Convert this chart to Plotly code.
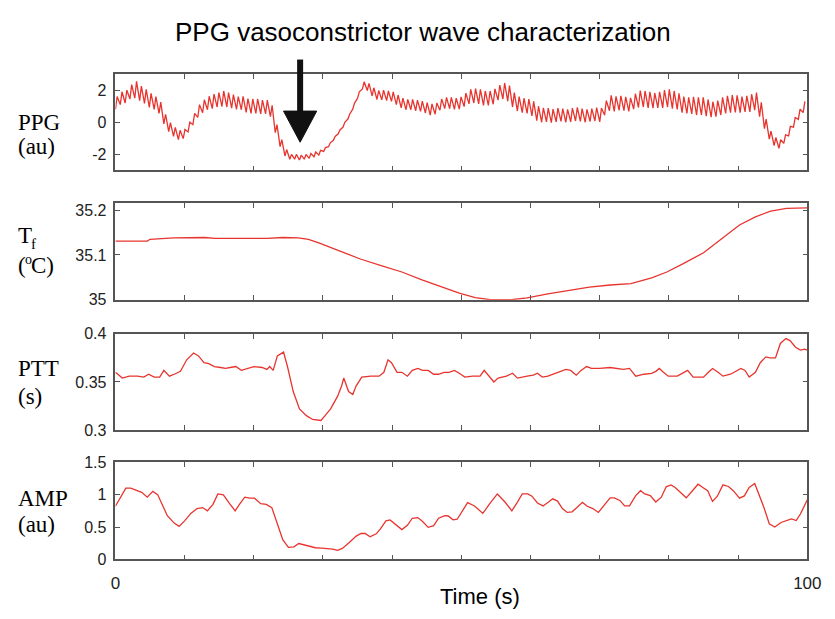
import plotly.graph_objects as go

# ---------------- data ----------------
beat_period = 0.7      # s between successive PPG beats
rise_time = 0.25       # s from pulse foot to pulse peak

ppg_trough = [0.80, 1.10, 1.20, 1.45, 1.50, 1.35, 1.18, 0.92, 0.80, 0.55,
              -0.10, -0.58, -0.88, -1.08, -1.02, -0.60, -0.15, 0.30, 0.60, 0.78,
              0.85, 0.95, 0.98, 0.95, 0.88, 0.80, 0.78, 0.62, 0.55, 0.55,
              0.52, 0.52, 0.35, -0.65, -1.52, -2.10, -2.30, -2.30, -2.35, -2.30,
              -2.25, -2.15, -2.05, -1.82, -1.52, -1.12, -0.72, -0.30, 0.20, 0.82,
              1.50, 2.08, 1.98, 1.65, 1.42, 1.40, 1.35, 1.30, 1.10, 0.90,
              0.78, 0.78, 0.72, 0.68, 0.58, 0.45, 0.50, 0.75, 0.85, 0.85,
              0.80, 0.82, 0.98, 1.15, 1.20, 1.15, 1.05, 1.05, 1.12, 1.38,
              1.45, 1.32, 0.95, 0.70, 0.60, 0.55, 0.40, 0.10, 0.00, 0.02,
              -0.02, 0.02, 0.05, 0.00, 0.02, 0.08, 0.05, 0.00, 0.05, 0.08,
              0.02, 0.45, 0.72, 0.68, 0.75, 0.72, 0.68, 0.82, 0.92, 0.95,
              0.90, 0.88, 0.90, 0.90, 0.95, 0.85, 0.80, 0.60, 0.55, 0.52,
              0.45, 0.45, 0.38, 0.32, 0.35, 0.45, 0.55, 0.60, 0.62, 0.60,
              0.65, 0.65, 0.75, 0.35, -0.40, -1.05, -1.45, -1.62, -1.32, -0.85,
              -0.30, 0.18, 0.60]
ppg_peak = [1.60, 1.90, 2.00, 2.35, 2.55, 2.25, 2.05, 1.80, 1.60, 1.25,
            0.50, -0.02, -0.32, -0.50, -0.45, 0.00, 0.55, 1.10, 1.40, 1.62,
            1.75, 1.85, 1.95, 1.85, 1.72, 1.60, 1.62, 1.48, 1.45, 1.45,
            1.38, 1.38, 1.05, -0.15, -1.08, -1.70, -2.00, -2.00, -2.05, -2.00,
            -1.95, -1.85, -1.75, -1.58, -1.28, -0.88, -0.48, 0.00, 0.50, 1.18,
            1.90, 2.52, 2.42, 2.15, 1.98, 2.00, 1.95, 1.90, 1.70, 1.50,
            1.42, 1.42, 1.38, 1.32, 1.22, 1.15, 1.20, 1.45, 1.55, 1.55,
            1.50, 1.58, 1.82, 2.05, 2.10, 2.05, 1.95, 1.95, 2.08, 2.32,
            2.45, 2.28, 1.85, 1.60, 1.50, 1.45, 1.30, 1.00, 0.90, 0.88,
            0.82, 0.88, 0.85, 0.80, 0.88, 0.92, 0.85, 0.80, 0.85, 0.92,
            0.88, 1.35, 1.68, 1.62, 1.65, 1.58, 1.52, 1.78, 1.98, 1.95,
            1.90, 1.82, 1.90, 2.00, 2.05, 1.95, 1.80, 1.60, 1.55, 1.58,
            1.55, 1.55, 1.42, 1.28, 1.35, 1.55, 1.65, 1.70, 1.68, 1.60,
            1.65, 1.75, 1.85, 1.25, 0.20, -0.55, -0.95, -1.08, -0.78, -0.25,
            0.30, 0.82, 1.30]

tf_t = [0, 4.6, 5.0, 8.4, 12.9, 14.4, 21.9, 24.2, 26.4, 27.9, 29.4, 32.4, 35.4,
        38.4, 41.4, 44.4, 47.4, 49.7, 52.0, 54.2, 57.2, 59.5, 62.5, 65.5, 68.5,
        71.5, 74.5, 77.5, 79.7, 82.0, 85.0, 87.2, 90.2, 92.5, 94.7, 97.0, 100]
tf_v = [35.131, 35.131, 35.135, 35.138, 35.139, 35.137, 35.137, 35.139, 35.138,
        35.135, 35.127, 35.109, 35.091, 35.076, 35.062, 35.044, 35.027, 35.015,
        35.005, 35.000, 35.000, 35.004, 35.013, 35.020, 35.028, 35.033, 35.036,
        35.049, 35.062, 35.080, 35.105, 35.131, 35.167, 35.185, 35.198, 35.204,
        35.205]

ptt_t = [0, 1.0, 2.0, 3.2, 4.1, 4.8, 5.6, 6.4, 7.0, 7.8, 8.5, 9.4, 10.3, 11.3,
         12.0, 12.8, 13.5, 14.3, 15.2, 15.9, 16.6, 17.4, 18.2, 19.1, 20.0, 21.2,
         21.9, 22.3, 22.8, 23.4, 24.3, 24.9, 25.7, 26.6, 27.6, 28.5, 29.7, 30.3,
         31.1, 32.1, 32.7, 33.0, 33.7, 34.3, 34.8, 35.6, 36.9, 38.1, 38.8, 39.4,
         39.9, 40.7, 41.4, 42.2, 42.9, 43.7, 44.4, 45.2, 46.0, 46.7, 47.5, 48.2,
         49.0, 49.7, 50.5, 51.6, 52.7, 53.3, 54.1, 54.7, 55.3, 56.5, 57.4, 58.1,
         59.5, 60.4, 61.0, 61.7, 62.5, 64.0, 65.1, 65.8, 66.6, 67.3, 68.1, 68.8,
         70.0, 71.5, 72.6, 73.4, 74.3, 75.2, 76.4, 77.5, 78.1, 78.6, 79.2, 79.9,
         81.2, 82.1, 82.7, 83.5, 85.0, 85.7, 86.3, 87.1, 87.8, 88.9, 89.9, 90.4,
         91.0, 91.6, 92.5, 93.2, 94.0, 94.6, 95.4, 96.1, 96.9, 97.5, 98.3, 99.0,
         99.6, 100]
ptt_v = [0.360, 0.354, 0.356, 0.356, 0.355, 0.358, 0.355, 0.355, 0.362, 0.356,
         0.358, 0.361, 0.373, 0.380, 0.377, 0.370, 0.369, 0.366, 0.365, 0.364,
         0.365, 0.366, 0.362, 0.364, 0.366, 0.365, 0.363, 0.366, 0.362, 0.377,
         0.381, 0.365, 0.340, 0.322, 0.315, 0.311, 0.310, 0.315, 0.322, 0.335,
         0.346, 0.354, 0.340, 0.337, 0.346, 0.355, 0.356, 0.356, 0.360, 0.373,
         0.370, 0.360, 0.360, 0.356, 0.362, 0.364, 0.362, 0.362, 0.358, 0.358,
         0.360, 0.360, 0.362, 0.359, 0.355, 0.356, 0.356, 0.362, 0.355, 0.350,
         0.354, 0.356, 0.359, 0.354, 0.356, 0.357, 0.359, 0.355, 0.356, 0.360,
         0.363, 0.362, 0.357, 0.362, 0.366, 0.364, 0.364, 0.365, 0.364, 0.363,
         0.364, 0.356, 0.358, 0.359, 0.361, 0.364, 0.360, 0.356, 0.356, 0.360,
         0.362, 0.355, 0.355, 0.360, 0.364, 0.360, 0.356, 0.358, 0.362, 0.364,
         0.362, 0.355, 0.360, 0.370, 0.376, 0.375, 0.375, 0.390, 0.395, 0.393,
         0.386, 0.383, 0.384, 0.383]

amp_t = [0.0, 0.8, 1.5, 2.2, 2.9, 3.8, 4.6, 5.4, 6.1, 6.7,
         7.5, 8.5, 9.2, 10.0, 10.9, 11.8, 12.6, 13.3, 14.1, 14.8,
         15.6, 16.5, 17.3, 18.0, 18.7, 19.4, 20.1, 21.0, 21.8, 22.6,
         23.4, 24.2, 25.0, 25.8, 26.5, 27.3, 28.1, 28.9, 29.8, 30.7,
         31.4, 32.1, 32.8, 33.8, 34.8, 35.5, 36.1, 36.8, 37.7, 38.3,
         39.1, 39.7, 40.6, 41.4, 42.2, 42.9, 43.7, 44.4, 45.2, 46.0,
         46.7, 47.6, 48.1, 48.8, 49.4, 49.8, 50.9, 51.9, 53.1, 54.1,
         55.2, 56.3, 57.3, 58.1, 58.8, 59.6, 60.2, 61.0, 61.8, 62.6,
         63.2, 63.9, 64.6, 65.3, 66.0, 66.7, 67.5, 68.2, 69.0, 69.8,
         70.7, 71.5, 72.1, 72.9, 73.6, 74.3, 75.2, 75.9, 76.5, 77.3,
         78.1, 78.9, 79.6, 80.3, 80.9, 81.7, 82.5, 83.4, 84.2, 84.9,
         85.6, 86.3, 87.0, 87.8, 88.6, 89.3, 90.2, 90.9, 91.6, 92.4,
         93.0, 93.7, 94.5, 95.3, 96.2, 97.0, 97.7, 98.4, 99.0, 100.0]
amp_v = [0.82, 0.96, 1.10, 1.10, 1.07, 1.035, 0.96, 1.05, 1.00, 0.86,
         0.675, 0.56, 0.51, 0.595, 0.71, 0.785, 0.80, 0.75, 0.85, 1.01,
         0.995, 0.86, 0.75, 0.86, 0.96, 0.945, 0.945, 0.86, 0.85, 0.80,
         0.535, 0.30, 0.185, 0.195, 0.245, 0.225, 0.195, 0.18, 0.175, 0.17,
         0.16, 0.14, 0.17, 0.26, 0.36, 0.40, 0.40, 0.35, 0.395, 0.47,
         0.595, 0.61, 0.535, 0.46, 0.525, 0.635, 0.645, 0.585, 0.495, 0.52,
         0.635, 0.675, 0.67, 0.61, 0.62, 0.685, 0.875, 0.825, 0.71, 0.86,
         1.01, 0.885, 0.75, 0.885, 1.01, 1.01, 0.975, 0.87, 0.825, 0.885,
         0.935, 0.90, 0.785, 0.725, 0.735, 0.80, 0.88, 0.82, 0.785, 0.725,
         0.835, 0.95, 0.95, 0.91, 0.825, 0.825, 0.985, 1.06, 1.01, 0.985,
         0.885, 0.96, 1.12, 1.15, 1.11, 1.025, 0.95, 1.06, 1.16, 1.11,
         1.06, 0.895, 0.975, 1.15, 1.125, 1.06, 0.945, 0.98, 1.11, 1.17,
         1.01, 0.81, 0.55, 0.50, 0.57, 0.60, 0.625, 0.60, 0.70, 0.92]

x_major_ticks = [0, 100]
x_major_text = ["0", "100"]
x_minor_ticks = [10, 20, 30, 40, 50, 60, 70, 80, 90]
ppg_ticks = [-2, 0, 2]
ppg_ticktext = ["-2", "0", "2"]
tf_ticks = [35, 35.1, 35.2]
tf_ticktext = ["35", "35.1", "35.2"]
ptt_ticks = [0.3, 0.35, 0.4]
ptt_ticktext = ["0.3", "0.35", "0.4"]
amp_ticks = [0, 0.5, 1, 1.5]
amp_ticktext = ["0", "0.5", "1", "1.5"]

# ---------------- build PPG trace (foot/peak alternation per beat) ----------------
ppg_t, ppg_v = [], []
for k, (lo, hi) in enumerate(zip(ppg_trough, ppg_peak)):
    ppg_t += [k * beat_period, k * beat_period + rise_time]
    ppg_v += [lo, hi]

# ---------------- figure ----------------
W, H = 835, 619
RED = "#e8342e"
AX = "#555555"
SANS = "Liberation Sans, Arial, sans-serif"
SERIF = "Liberation Serif, Times New Roman, serif"

def px_x(p):
    return p / W

def px_y(p):
    return 1 - p / H

x_dom = [px_x(113), px_x(821)]
panels = [(68, 167), (201, 300), (335, 434), (467, 567)]

fig = go.Figure()
series = [(ppg_t, ppg_v), (tf_t, tf_v), (ptt_t, ptt_v), (amp_t, amp_v)]
for i, (xs, ys) in enumerate(series):
    sfx = "" if i == 0 else str(i + 1)
    fig.add_trace(go.Scatter(x=xs, y=ys, mode="lines",
                             line=dict(color=RED, width=1.3),
                             xaxis="x" + sfx, yaxis="y" + sfx,
                             showlegend=False, hoverinfo="skip"))

y_specs = [
    dict(range=[-3, 3], tickvals=ppg_ticks, ticktext=ppg_ticktext),
    dict(range=[35, 35.215], tickvals=tf_ticks, ticktext=tf_ticktext),
    dict(range=[0.3, 0.4], tickvals=ptt_ticks, ticktext=ptt_ticktext),
    dict(range=[0, 1.5], tickvals=amp_ticks, ticktext=amp_ticktext),
]

layout = dict(width=W, height=H, margin=dict(l=0, r=0, t=0, b=0),
              paper_bgcolor="white", plot_bgcolor="white", showlegend=False)
for i, ((top, bot), ys) in enumerate(zip(panels, y_specs)):
    sfx = "" if i == 0 else str(i + 1)
    last = i == 3
    layout["xaxis" + sfx] = dict(
        domain=x_dom, anchor="y" + sfx, range=[0, 100],
        tickvals=x_major_ticks, ticktext=x_major_text,
        showticklabels=last, ticks="inside", ticklen=5, tickwidth=1.2,
        tickcolor=AX, showline=True, linecolor=AX, linewidth=1.5,
        mirror="ticks", showgrid=False, zeroline=False,
        minor=dict(tickvals=x_minor_ticks, ticks="inside", ticklen=5,
                   tickwidth=1.2, tickcolor=AX, showgrid=False),
        tickfont=dict(family=SANS, size=17, color="#222"),
        ticklabelstandoff=7, ticklabeloverflow="allow",
    )
    layout["yaxis" + sfx] = dict(
        domain=[px_y(bot), px_y(top)], anchor="x" + sfx,
        range=ys["range"], tickvals=ys["tickvals"], ticktext=ys["ticktext"],
        ticks="inside", ticklen=5, tickwidth=1.2, tickcolor=AX,
        showline=True, linecolor=AX, linewidth=1.5, mirror="ticks",
        showgrid=False, zeroline=False,
        tickfont=dict(family=SANS, size=16, color="#222"),
        ticklabelstandoff=4,
    )
fig.update_layout(**layout)

ann = []
def text(x, y, s, size, family, xanchor="center", color="black"):
    ann.append(dict(x=px_x(x), y=px_y(y), xref="paper", yref="paper", text=s,
                    showarrow=False, xanchor=xanchor, yanchor="middle",
                    font=dict(family=family, size=size, color=color)))

text(428, 25, "PPG vasoconstrictor wave characterization", 26, SANS)
text(486, 605, "Time (s)", 22, SANS)
text(11, 118, "PPG", 23, SERIF, "left")
text(11, 142, "(au)", 23, SERIF, "left")
# T with subscript f
text(11, 234, "T", 23, SERIF, "left")
text(25, 243, "f", 15, SERIF, "left")
# (°C) with a raised small o
text(11, 265, "(", 23, SERIF, "left")
text(18, 259, "o", 14, SERIF, "left")
text(25, 265, "C)", 23, SERIF, "left")
text(11, 371, "PTT", 23, SERIF, "left")
text(11, 399, "(s)", 23, SERIF, "left")
text(11, 504, "AMP", 23, SERIF, "left")
text(11, 531, "(au)", 23, SERIF, "left")
fig.update_layout(annotations=ann)

# arrow marking the vasoconstriction wave
ax_c = 302
fig.add_shape(type="line", xref="paper", yref="paper",
              x0=px_x(ax_c), x1=px_x(ax_c), y0=px_y(53), y1=px_y(110),
              line=dict(color="#111", width=6))
fig.add_shape(type="path", xref="paper", yref="paper",
              path="M {:.5f},{:.5f} L {:.5f},{:.5f} L {:.5f},{:.5f} Z".format(
                  px_x(ax_c - 17), px_y(106), px_x(ax_c + 17), px_y(106),
                  px_x(ax_c), px_y(138)),
              fillcolor="#111", line=dict(color="#111", width=1))

fig.write_html("out.html")
